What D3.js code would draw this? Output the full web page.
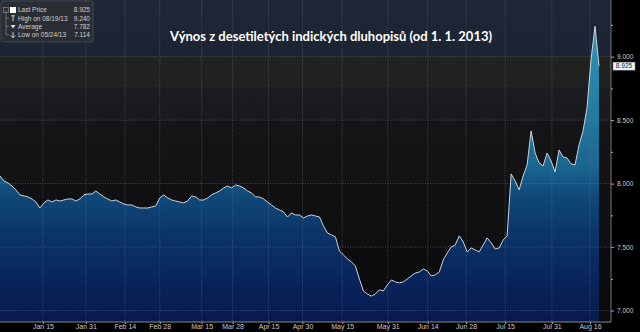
<!DOCTYPE html>
<html>
<head>
<meta charset="utf-8">
<script src="https://cdn.jsdelivr.net/npm/d3@7"></script>
<style>
  html, body { margin: 0; padding: 0; background: #000; }
  svg { display: block; }
</style>
</head>
<body>
<svg id="chart"></svg>
<script>
// 10Y Indian government bond yield, trading days from Jan 2 2013
const yields = [
  8.060, 8.021, 8.005, 7.981, 7.950, 7.911, 7.903, 7.895, 7.879, 7.855,
  7.808, 7.848, 7.871, 7.855, 7.871, 7.863, 7.871, 7.879, 7.879, 7.863,
  7.879, 7.911, 7.918, 7.918, 7.942, 7.918, 7.895, 7.879, 7.863, 7.871,
  7.855, 7.840, 7.832, 7.832, 7.816, 7.808, 7.808, 7.808, 7.816, 7.824,
  7.887, 7.911, 7.887, 7.871, 7.863, 7.855, 7.848, 7.863, 7.903, 7.895,
  7.871, 7.871, 7.887, 7.911, 7.926, 7.942, 7.966, 7.981, 7.966, 7.989,
  7.981, 7.966, 7.942, 7.926, 7.895, 7.895, 7.879, 7.855, 7.832, 7.808,
  7.792, 7.777, 7.737, 7.769, 7.753, 7.753, 7.729, 7.745, 7.753, 7.745,
  7.737, 7.666, 7.611, 7.596, 7.580, 7.470, 7.438, 7.407, 7.383, 7.352,
  7.249, 7.155, 7.131, 7.114, 7.131, 7.163, 7.155, 7.202, 7.241, 7.226,
  7.218, 7.226, 7.249, 7.273, 7.296, 7.304, 7.328, 7.312, 7.273, 7.281,
  7.304, 7.399, 7.454, 7.501, 7.517, 7.588, 7.540, 7.462, 7.493, 7.477,
  7.462, 7.517, 7.572, 7.533, 7.485, 7.493, 7.556, 7.588, 8.076, 8.021,
  7.950, 8.060, 8.147, 8.415, 8.241, 8.163, 8.139, 8.241, 8.178, 8.092,
  8.265, 8.210, 8.202, 8.155, 8.147, 8.304, 8.415, 8.596, 8.974, 9.240,
  8.925
];

// date labels and the sample index where each one falls
const dateLabels = ["Jan 15", "Jan 31", "Feb 14", "Feb 28", "Mar 15", "Mar 28", "Apr 15", "Apr 30",
  "May 15", "May 31", "Jun 14", "Jun 28", "Jul 15", "Jul 31", "Aug 16"];
const dateIndex = [10.75, 21.5, 31.25, 40, 50.5, 58.25, 67.25, 75.75,
  85.7, 97.1, 107.1, 116.7, 126.5, 138.2, 147.75];

const yTicks = [7.0, 7.5, 8.0, 8.5, 9.0];
const yMinorTicks = [7.25, 7.75, 8.25, 8.75, 9.25];

const legendLabels = ["Last Price", "High on 08/19/13", "Average", "Low on 05/24/13"];
const legendValues = ["8.925", "9.240", "7.782", "7.114"];
const lastPrice = 8.925;

const title = "Výnos z desetiletých indických dluhopisů (od 1. 1. 2013)";

const width = 640, height = 332;
const plotRight = 611, plotBottom = 322;

const svg = d3.select("#chart").attr("width", width).attr("height", height);

const x = d3.scaleLinear().domain([0, yields.length - 1]).range([0, 599]);
const y = d3.scaleLinear().domain([6.91, 9.446]).range([plotBottom, 0]);

const defs = svg.append("defs");

// background bands, Bloomberg-ish
const bg = defs.append("linearGradient")
  .attr("id", "bg").attr("gradientUnits", "userSpaceOnUse")
  .attr("x1", 0).attr("x2", 0).attr("y1", 0).attr("y2", plotBottom);
[
  [0, "#1f2737"], [0.172, "#1c2332"], [0.175, "#202320"], [0.27, "#1f221f"],
  [0.274, "#1b1d23"], [0.37, "#19191e"], [0.374, "#151518"], [0.565, "#131316"],
  [0.57, "#111113"], [0.76, "#0f0f12"], [0.765, "#0d0d10"], [1, "#0b0b0e"]
].forEach(s => bg.append("stop").attr("offset", s[0]).attr("stop-color", s[1]));

const areaGrad = defs.append("linearGradient")
  .attr("id", "areaFill").attr("gradientUnits", "userSpaceOnUse")
  .attr("x1", 0).attr("x2", 0).attr("y1", 0).attr("y2", plotBottom);
[
  [0, "#2f9db8"], [0.3, "#2581a6"], [0.52, "#1a6590"], [0.6, "#104b7a"],
  [0.72, "#0b3669"], [0.85, "#09265d"], [1, "#071a50"]
].forEach(s => areaGrad.append("stop").attr("offset", s[0]).attr("stop-color", s[1]));

svg.append("rect").attr("width", width).attr("height", height).attr("fill", "#000");
svg.append("rect").attr("width", plotRight).attr("height", plotBottom).attr("fill", "url(#bg)");

// area + line
const area = d3.area()
  .x((d, i) => x(i))
  .y0(plotBottom)
  .y1(d => y(d));
svg.append("path").datum(yields).attr("d", area).attr("fill", "url(#areaFill)");

// grid
const grid = svg.append("g").attr("class", "grid");
grid.selectAll("line.h").data(yTicks).enter().append("line")
  .attr("x1", 0).attr("x2", plotRight)
  .attr("y1", d => y(d)).attr("y2", d => y(d))
  .attr("stroke", "#7a8090").attr("stroke-opacity", 0.55)
  .attr("stroke-dasharray", "1,1.5");
grid.selectAll("line.v").data(dateIndex).enter().append("line")
  .attr("x1", d => x(d)).attr("x2", d => x(d))
  .attr("y1", 0).attr("y2", plotBottom)
  .attr("stroke", "#7a8090").attr("stroke-opacity", 0.45)
  .attr("stroke-dasharray", "1,1.5");

const line = d3.line()
  .x((d, i) => x(i))
  .y(d => y(d));
svg.append("path").datum(yields).attr("d", line)
  .attr("fill", "none").attr("stroke", "#ccd3dc").attr("stroke-width", 1);

// right axis
const yAxis = svg.append("g").attr("transform", `translate(${plotRight},0)`)
  .call(d3.axisRight(y).tickValues(yTicks).tickFormat(d3.format(".3f")).tickSize(3).tickPadding(3));
svg.append("g").attr("transform", `translate(${plotRight},0)`)
  .call(d3.axisRight(y).tickValues(yMinorTicks).tickFormat("").tickSize(2))
  .select(".domain").remove();
yAxis.select(".domain").attr("stroke", "#777").attr("d", `M0,0V${plotBottom}`);
svg.selectAll(".tick line").attr("stroke", "#aaa");
yAxis.selectAll("text").attr("fill", "#c8c8c8")
  .attr("font-family", "Liberation Sans, Arial, sans-serif").attr("font-size", 6.5);

// bottom axis
const xAxis = svg.append("g").attr("transform", `translate(0,${plotBottom})`)
  .call(d3.axisBottom(x).tickValues(dateIndex).tickFormat((d, i) => dateLabels[i]).tickSize(2).tickPadding(0));
xAxis.select(".domain").attr("stroke", "#888").attr("d", `M0,0H${plotRight}`);
xAxis.selectAll(".tick line").attr("stroke", "#aaa");
xAxis.selectAll("text").attr("fill", "#c8c8c8")
  .attr("font-family", "Liberation Sans, Arial, sans-serif").attr("font-size", 7);

// last price tag
const tag = svg.append("g").attr("transform", `translate(${plotRight + 2},${y(lastPrice)})`);
tag.append("rect").attr("x", 0).attr("y", -4).attr("width", 22).attr("height", 8)
  .attr("fill", "#f2f2f2").attr("stroke", "#888").attr("stroke-width", 0.5);
tag.append("text").attr("x", 11).attr("y", 2.3).attr("text-anchor", "middle")
  .attr("font-family", "Liberation Sans, Arial, sans-serif").attr("font-size", 6.5)
  .attr("fill", "#222").text(lastPrice.toFixed(3));

// title
svg.append("text").attr("x", 331).attr("y", 41).attr("text-anchor", "middle")
  .attr("font-family", "Lato, 'Open Sans', sans-serif").attr("font-weight", "bold")
  .attr("font-size", 13).attr("fill", "#fff").text(title);

// legend box
const legend = svg.append("g").attr("transform", "translate(1,1)");
legend.append("rect").attr("width", 92).attr("height", 41).attr("rx", 2)
  .attr("fill", "#2a2d33").attr("stroke", "#4a4e58").attr("stroke-width", 0.8);
legend.append("path").attr("d", "M5,9V34").attr("stroke", "#888").attr("stroke-width", 0.7).attr("fill", "none");
legend.append("rect").attr("x", 2.5).attr("y", 6.5).attr("width", 5).attr("height", 5)
  .attr("fill", "none").attr("stroke", "#999").attr("stroke-width", 0.6);
const rows = legend.selectAll("g.row").data(legendLabels).enter().append("g")
  .attr("transform", (d, i) => `translate(0,${9 + i * 8.3})`);
rows.filter((d, i) => i > 0).append("path").attr("d", "M5,0H8")
  .attr("stroke", "#888").attr("stroke-width", 0.7);
rows.append("text").attr("x", 17).attr("y", 2.3)
  .attr("font-family", "Liberation Sans, Arial, sans-serif").attr("font-size", 6.5)
  .attr("fill", "#d0d0d0").text(d => d);
rows.append("text").attr("x", 89).attr("y", 2.3).attr("text-anchor", "end")
  .attr("font-family", "Liberation Sans, Arial, sans-serif").attr("font-size", 6.5)
  .attr("fill", "#d0d0d0").text((d, i) => legendValues[i]);
// row icons
rows.filter((d, i) => i === 0).append("rect").attr("x", 9).attr("y", -3).attr("width", 6).attr("height", 6).attr("fill", "#fff");
rows.filter((d, i) => i === 1).append("path").attr("d", "M10,-2.5H14M12,-2.5V3").attr("stroke", "#ddd").attr("stroke-width", 0.9);
rows.filter((d, i) => i === 2).append("path").attr("d", "M9.5,-1.5H14.5L12,2Z").attr("fill", "#ddd");
rows.filter((d, i) => i === 3).append("path").attr("d", "M12,-3V2.5M10,0.5L12,3L14,0.5").attr("stroke", "#ddd").attr("stroke-width", 0.9).attr("fill", "none");
</script>
</body>
</html>
